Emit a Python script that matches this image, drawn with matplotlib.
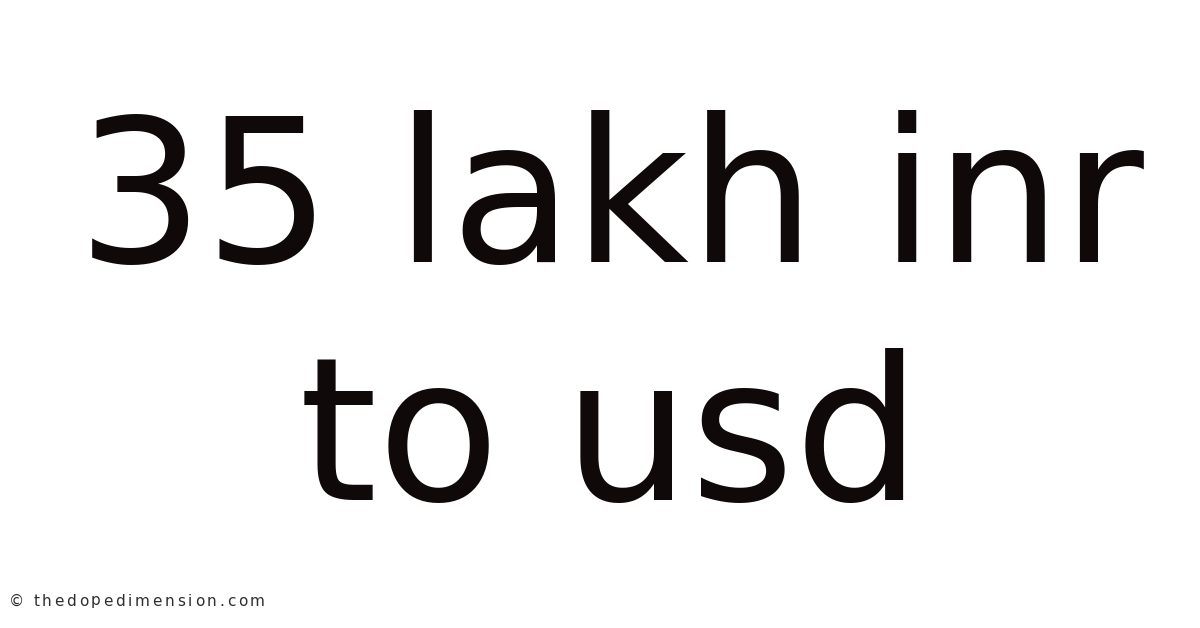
import matplotlib
matplotlib.use("Agg")
import matplotlib.pyplot as plt

title_lines = ["35 lakh inr", "to usd"]
watermark = "© thedopedimension.com"

W, H = 1200, 628

def main():
	fig = plt.figure(figsize=(W / 100, H / 100), dpi=100)
	fig.patch.set_facecolor("white")
	# baselines in pixels from top
	baselines = [262, 500]
	for line, base in zip(title_lines, baselines):
		fig.text(0.5 + 10 / W, 1 - base / H, line, ha="center", va="baseline",
			fontsize=144, color="#100909", family="DejaVu Sans")
	# watermark is letter spaced, so lay it out char by char
	fig.canvas.draw()
	r = fig.canvas.get_renderer()
	x = 9.0
	track = 2.7
	for ch in watermark:
		t = fig.text(x / W, 1 - 601 / H, ch, ha="left", va="center",
			fontsize=11, color="#2e2e2e", family="DejaVu Sans")
		if ch == " ":
			w = 3.5
		else:
			w = t.get_window_extent(r).width
		x += w + track
	fig.savefig("out.png", dpi=100, facecolor="white")

if __name__ == "__main__":
	main()
